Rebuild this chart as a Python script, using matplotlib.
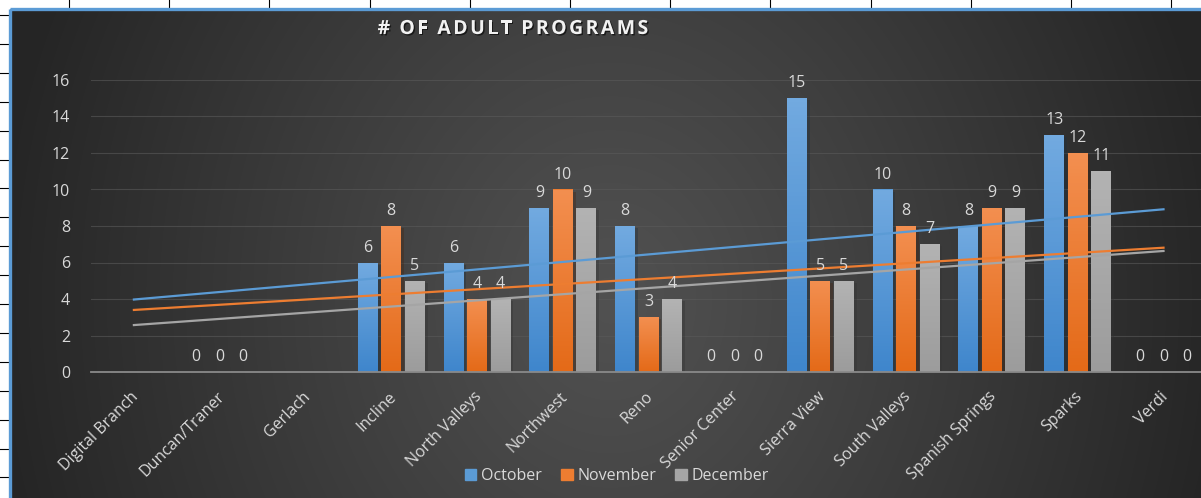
import numpy as np
import matplotlib
matplotlib.use("Agg")
import matplotlib.pyplot as plt
from matplotlib.patches import Rectangle
from matplotlib import patheffects as pe
from matplotlib.transforms import ScaledTranslation

# data
branches = ["Digital Branch", "Duncan/Traner", "Gerlach", "Incline", "North Valleys",
            "Northwest", "Reno", "Senior Center", "Sierra View", "South Valleys",
            "Spanish Springs", "Sparks", "Verdi"]
october = [np.nan, 0, np.nan, 6, 6, 9, 8, 0, 15, 10, 8, 13, 0]
november = [np.nan, 0, np.nan, 8, 4, 10, 3, 0, 5, 8, 9, 12, 0]
december = [np.nan, 0, np.nan, 5, 4, 9, 4, 0, 5, 7, 9, 11, 0]
months = ["October", "November", "December"]
y_ticks = [0, 2, 4, 6, 8, 10, 12, 14, 16]
title = "# OF ADULT PROGRAMS"

colors = ["#5b9bd5", "#ed7d31", "#a5a5a5"]
grad_top = ["#72aae0", "#f38f50", "#b3b3b3"]
grad_bot = ["#3f86cc", "#e46a18", "#9c9c9c"]
txt = "#d9d9d9"
FONT = ["Open Sans", "DejaVu Sans"]
plt.rcParams["font.family"] = FONT

W, H = 1201, 498
fig = plt.figure(figsize=(W / 100, H / 100), dpi=100)
fig.patch.set_facecolor("white")

# spreadsheet behind the chart
bg = fig.add_axes([0, 0, 1, 1])
bg.set_xlim(0, W)
bg.set_ylim(H, 0)
bg.axis("off")
for xv in np.arange(69, W, 100.2):
    bg.axvline(xv, color="black", lw=0.8)
for yv in np.arange(15, H, 28.9):
    bg.axhline(yv, color="black", lw=0.8)

# chart area with radial gradient
cx0, cy0 = 10, 9
XX, YY = np.meshgrid(np.arange(W), np.arange(H))
t = np.sqrt(((XX - 610) / 620.0) ** 2 + ((YY - 300) / 720.0) ** 2)
t = np.clip(t, 0, 1) ** 1.1
c = (0x51 + (0x25 - 0x51) * t) / 255.0
img = np.dstack([c, c, c])
bg.imshow(img[cy0:, cx0:], extent=(cx0, W, H, cy0), zorder=3, aspect="auto")
bg.add_patch(Rectangle((cx0 - 0.5, cy0 - 0.5), W + 20, H + 20, fill=False,
                       edgecolor="#5b9bd5", lw=2.4, zorder=4))
bg.set_xlim(0, W)
bg.set_ylim(H, 0)

# main plot
ax = fig.add_axes([91 / W, (H - 372) / H, 1115.4 / W, 292 / H])
ax.set_facecolor("none")
ax.grid(axis="y", color="#5a5a5a", lw=0.8, alpha=0.6)
ax.set_axisbelow(True)
for s in ["top", "right", "left"]:
    ax.spines[s].set_visible(False)
ax.spines["bottom"].set_color("#8a8a8a")
ax.spines["bottom"].set_linewidth(1.3)
ax.tick_params(length=0, colors=txt, labelsize=11.5)
ax.tick_params(axis="y", pad=15)
ax.tick_params(axis="x", pad=12)

x = np.arange(len(branches))
width = 0.233
step = 0.274
series = [october, november, december]
grad = np.linspace(0, 1, 64).reshape(-1, 1)
for i, (vals, name) in enumerate(zip(series, months)):
    v = np.array(vals, dtype=float)
    bars = ax.bar(x + (i - 1) * step, np.nan_to_num(v), width, color=colors[i],
                  label=name, zorder=2)
    top = np.array(matplotlib.colors.to_rgb(grad_top[i]))
    bot = np.array(matplotlib.colors.to_rgb(grad_bot[i]))
    gimg = top[None, None, :] * (1 - grad[:, :, None]) + bot[None, None, :] * grad[:, :, None]
    for b, val in zip(bars, v):
        if np.isnan(val):
            continue
        if val > 0:
            b.set_path_effects([pe.SimplePatchShadow(offset=(2, -1.5), alpha=0.35), pe.Normal()])
            im = ax.imshow(gimg, extent=(b.get_x(), b.get_x() + b.get_width(), 0, b.get_height()),
                           aspect="auto", zorder=2.5)
            im.set_clip_path(b)
        ax.annotate(f"{int(val)}", (b.get_x() + b.get_width() / 2, val), xytext=(0, 5),
                    textcoords="offset points", ha="center", va="bottom",
                    color=txt, fontsize=11.5, zorder=5)
    # linear trendline over the non-blank points
    ok = ~np.isnan(v)
    k, b0 = np.polyfit(x[ok], v[ok], 1)
    xs = np.array([x[0], x[-1]])
    ax.plot(xs, k * xs + b0, color=colors[i], lw=1.6, zorder=4)

ax.set_xlim(-0.5, 12.5)
ax.set_ylim(0, 16)
ax.set_yticks(y_ticks)
ax.set_xticks(x)
ax.set_xticklabels(branches, rotation=45, ha="right", va="top", color=txt, fontsize=11.5)
shift = ScaledTranslation(8 / 100, 0, fig.dpi_scale_trans)
for lab in ax.get_xticklabels():
    lab.set_transform(lab.get_transform() + shift)

handles = [Rectangle((0, 0), 1, 1, color=colors[i]) for i in range(3)]
fig.legend(handles, months, loc="center", bbox_to_anchor=(617 / W, (H - 476) / H),
           ncol=3, frameon=False, fontsize=11.5, labelcolor=txt,
           handlelength=0.7, handleheight=0.7, handletextpad=0.3, columnspacing=1.2)

# title with Excel-like letter spacing
fig.canvas.draw()
r = fig.canvas.get_renderer()
shadow = [pe.withSimplePatchShadow(offset=(1, -1), shadow_rgbFace="black", alpha=0.6)]
chars = []
total = 0
gap = 2.4
for ch in title:
    tt = fig.text(0, 0, ch, fontsize=14, fontweight="bold", color="#f2f2f2",
                  va="center", ha="left", path_effects=shadow)
    w = tt.get_window_extent(r).width if ch != " " else 4.5
    chars.append((tt, w))
    total += w + gap
total -= gap
xp = 513 - total / 2
for tt, w in chars:
    tt.set_position((xp / W, (H - 29) / H))
    xp += w + gap

fig.savefig("out.png", dpi=100, facecolor=fig.get_facecolor())
